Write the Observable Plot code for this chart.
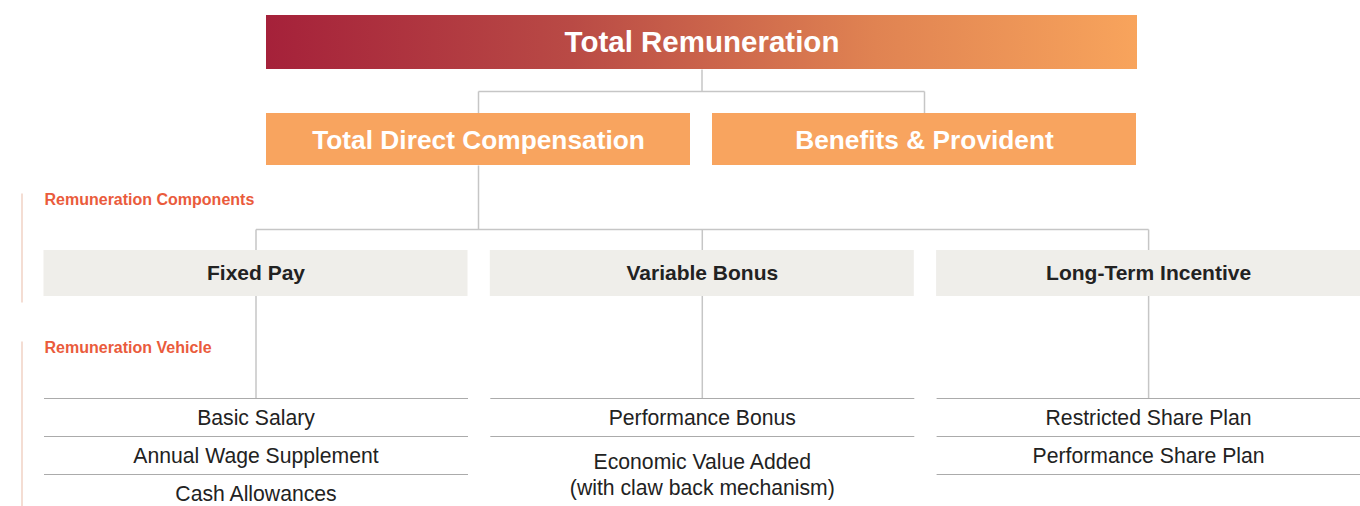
<!DOCTYPE html>
<html>
<head>
<meta charset="utf-8">
<script src="https://cdn.jsdelivr.net/npm/d3@7"></script>
<script src="https://cdn.jsdelivr.net/npm/@observablehq/plot@0.6"></script>
<style>
  html, body { margin: 0; padding: 0; background: #fff; }
  svg { display: block; }
</style>
</head>
<body>
<div id="chart"></div>
<script>
// ---- Data ----
const rootLabel = ["Total Remuneration"];
const level2Labels = ["Total Direct Compensation", "Benefits & Provident"];
const componentLabels = ["Fixed Pay", "Variable Bonus", "Long-Term Incentive"];
const fixedPayVehicles = ["Basic Salary", "Annual Wage Supplement", "Cash Allowances"];
const variableBonusVehicles = ["Performance Bonus", "Economic Value Added\n(with claw back mechanism)"];
const ltiVehicles = ["Restricted Share Plan", "Performance Share Plan"];
const sectionLabels = ["Remuneration Components", "Remuneration Vehicle"];

// ---- Layout (kept separate from data) ----
const W = 1360, H = 506;
const root = {x1: 266, x2: 1137, y1: 15, y2: 69};
const l2 = {x0: 266, step: 446, w: 424, y1: 113, y2: 165};
const l3 = {x0: 43.5, step: 446.3, w: 424, y1: 250, y2: 296};
const vehTop = 398, rowH = 38;
const busY1 = 91, busY2 = 229;

const rootNode = rootLabel.map(label => ({label, ...root, cx: (root.x1 + root.x2) / 2, cy: (root.y1 + root.y2) / 2 + 0.5}));
const l2Nodes = level2Labels.map((label, i) => {
  const x1 = l2.x0 + i * l2.step;
  return {label, x1, x2: x1 + l2.w, y1: l2.y1, y2: l2.y2, cx: x1 + l2.w / 2, cy: (l2.y1 + l2.y2) / 2 + 1};
});
const l3Nodes = componentLabels.map((label, i) => {
  const x1 = l3.x0 + i * l3.step;
  return {label, x1, x2: x1 + l3.w, y1: l3.y1, y2: l3.y2, cx: x1 + l3.w / 2, cy: (l3.y1 + l3.y2) / 2};
});

const vehicleLists = [fixedPayVehicles, variableBonusVehicles, ltiVehicles];
const vehicleRows = [];
const vehicleLines = [];
vehicleLists.forEach((list, ci) => {
  const n = l3Nodes[ci];
  let y = vehTop;
  list.forEach(label => {
    const lines = label.split("\n").length;
    const h = rowH * lines;
    vehicleLines.push({x1: n.x1, x2: n.x2, y});
    vehicleRows.push({label, x: n.cx, y: y + h / 2 - 0.5});
    y += h;
  });
  vehicleLines.push({x1: n.x1, x2: n.x2, y});
});

// connectors
const links = [];
links.push({x1: rootNode[0].cx, y1: root.y2, x2: rootNode[0].cx, y2: busY1});
links.push({x1: l2Nodes[0].cx, y1: busY1, x2: l2Nodes[l2Nodes.length - 1].cx, y2: busY1});
l2Nodes.forEach(n => links.push({x1: n.cx, y1: busY1, x2: n.cx, y2: l2.y1}));
links.push({x1: l2Nodes[0].cx, y1: l2.y2, x2: l2Nodes[0].cx, y2: busY2});
links.push({x1: l3Nodes[0].cx, y1: busY2, x2: l3Nodes[l3Nodes.length - 1].cx, y2: busY2});
l3Nodes.forEach(n => links.push({x1: n.cx, y1: busY2, x2: n.cx, y2: vehTop}));

const sectionNodes = [
  {label: sectionLabels[0], x: 44, y: 199.5, gy1: 193, gy2: 302},
  {label: sectionLabels[1], x: 44, y: 347.5, gy1: 341, gy2: 506}
];

// gradient defs as a custom mark
function gradientDefs() {
  const defs = d3.create("svg:defs");
  const g = defs.append("linearGradient").attr("id", "trGrad").attr("x1", "0%").attr("x2", "100%").attr("y1", "0%").attr("y2", "0%");
  g.append("stop").attr("offset", "0%").attr("stop-color", "#A5213A");
  g.append("stop").attr("offset", "35%").attr("stop-color", "#B94A45");
  g.append("stop").attr("offset", "70%").attr("stop-color", "#E08352");
  g.append("stop").attr("offset", "100%").attr("stop-color", "#F8A45C");
  return defs.node();
}

const chart = Plot.plot({
  width: W,
  height: H,
  margin: 0,
  x: {domain: [0, W], range: [0, W], axis: null},
  y: {domain: [0, H], range: [0, H], axis: null},
  style: {fontFamily: "'Liberation Sans', Arial, Helvetica, sans-serif", background: "#fff"},
  marks: [
    gradientDefs,
    // left guide bars
    Plot.link(sectionNodes, {x1: () => 21.5, x2: () => 21.5, y1: "gy1", y2: "gy2", stroke: "#F4DDD3", strokeWidth: 2}),
    // connectors
    Plot.link(links, {x1: "x1", y1: "y1", x2: "x2", y2: "y2", stroke: "#C6C6C6", strokeWidth: 1.5}),
    // boxes
    Plot.rect(rootNode, {x1: "x1", x2: "x2", y1: "y1", y2: "y2", fill: "url(#trGrad)"}),
    Plot.rect(l2Nodes, {x1: "x1", x2: "x2", y1: "y1", y2: "y2", fill: "#F8A45F"}),
    Plot.rect(l3Nodes, {x1: "x1", x2: "x2", y1: "y1", y2: "y2", fill: "#EFEEEA"}),
    // vehicle separators
    Plot.link(vehicleLines, {x1: "x1", x2: "x2", y1: "y", y2: "y", stroke: "#ABABAB", strokeWidth: 1}),
    // text
    Plot.text(rootNode, {x: "cx", y: "cy", text: "label", fill: "#fff", fontSize: 29.5, fontWeight: "bold"}),
    Plot.text(l2Nodes, {x: "cx", y: "cy", text: "label", fill: "#fff", fontSize: 26.3, fontWeight: "bold"}),
    Plot.text(l3Nodes, {x: "cx", y: "cy", text: "label", fill: "#222", fontSize: 21, fontWeight: "bold"}),
    Plot.text(vehicleRows, {x: "x", y: "y", text: "label", fill: "#222", fontSize: 21.2, lineHeight: 1.22}),
    Plot.text(sectionNodes, {x: "x", y: "y", text: "label", fill: "#EA5B3C", fontSize: 16, fontWeight: "bold", textAnchor: "start"})
  ]
});
document.getElementById("chart").appendChild(chart);
</script>
</body>
</html>
